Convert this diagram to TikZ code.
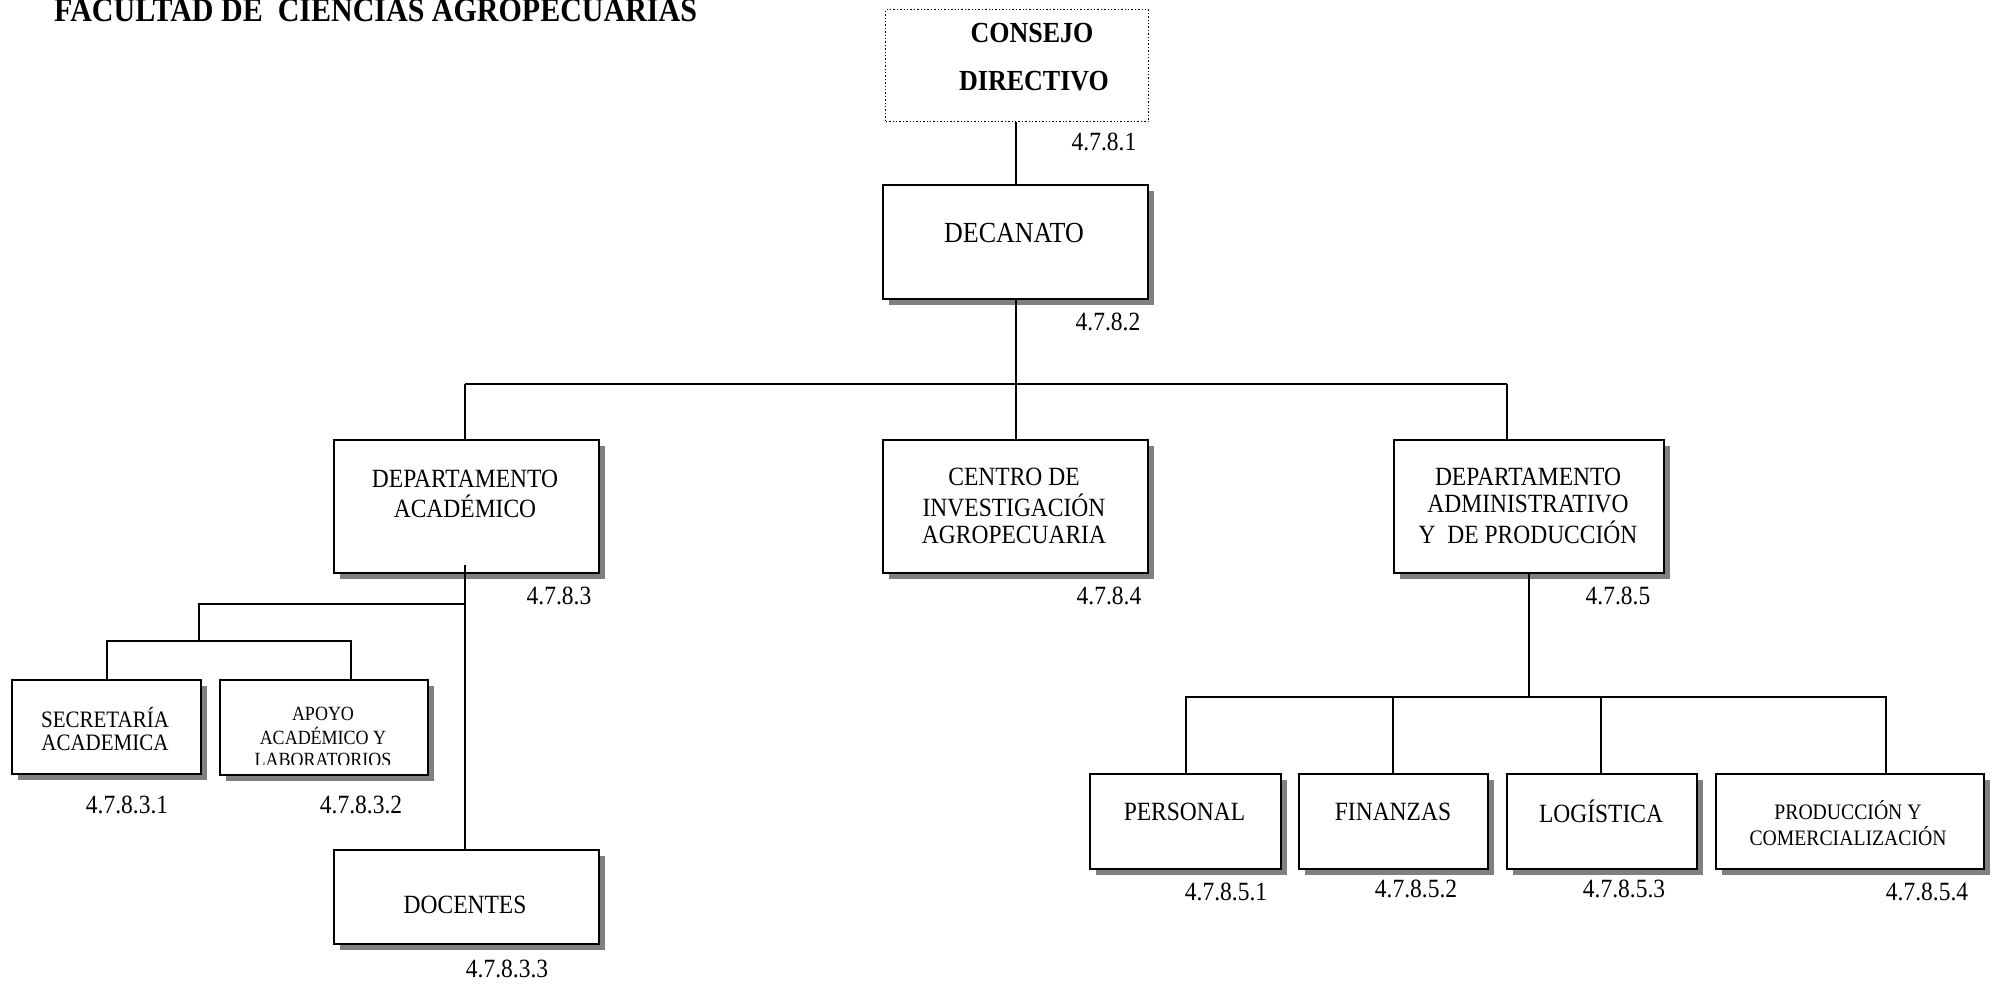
\documentclass[tikz,border=0pt]{standalone}
\usepackage{fontspec}
\usepackage{graphicx}
\setmainfont{Liberation Serif}
\usetikzlibrary{shadows}

% text is set slightly taller than wide
\newcommand\tallText[1]{\scalebox{1}[1.12]{\begin{tabular}{@{}c@{}}#1\end{tabular}}}

\tikzset{
  unitbox/.style={draw, line width=2.2pt, fill=white, inner sep=0pt,
    general shadow={fill=black!50, shadow xshift=6pt, shadow yshift=-6pt}},
  topbox/.style={draw, line width=1.4pt, dotted, inner sep=0pt},
  boxtext/.style={inner sep=0pt, font=\fontsize{23.5}{24}\selectfont},
  smalltext/.style={inner sep=0pt, font=\fontsize{21}{20.5}\selectfont},
  tinytext/.style={inner sep=0pt, font=\fontsize{18}{19.6}\selectfont},
  codelabel/.style={inner sep=0pt, font=\fontsize{23.5}{24}\selectfont},
  link/.style={line width=2pt},
}

\begin{document}
\begin{tikzpicture}[x=1pt, y=-1pt]
\useasboundingbox (0,0) rectangle (1999,993);

% title
\node[anchor=base west, inner sep=0pt, font=\fontsize{30}{30}\selectfont\bfseries] (title) at (54,21)
  {\scalebox{1}[1.12]{FACULTAD DE\ \ CIENCIAS AGROPECUARIAS}};

% ---- boxes ----
\node[topbox, anchor=north west, minimum width=263pt, minimum height=112pt] (consejo) at (885,9) {};
\node[unitbox, anchor=north west, minimum width=265pt, minimum height=114pt] (decanato) at (882,184) {};
\node[unitbox, anchor=north west, minimum width=265pt, minimum height=133pt] (acad) at (333,439) {};
\node[unitbox, anchor=north west, minimum width=265pt, minimum height=133pt] (centro) at (882,439) {};
\node[unitbox, anchor=north west, minimum width=270pt, minimum height=133pt] (admin) at (1393,439) {};
\node[unitbox, anchor=north west, minimum width=189pt, minimum height=94pt] (secret) at (11,679) {};
\node[unitbox, anchor=north west, minimum width=208pt, minimum height=95pt] (apoyo) at (219,679) {};
\node[unitbox, anchor=north west, minimum width=265pt, minimum height=94pt] (docentes) at (333,849) {};
\node[unitbox, anchor=north west, minimum width=191pt, minimum height=95pt] (personal) at (1089,773) {};
\node[unitbox, anchor=north west, minimum width=189pt, minimum height=95pt] (finanzas) at (1298,773) {};
\node[unitbox, anchor=north west, minimum width=190pt, minimum height=95pt] (logistica) at (1506,773) {};
\node[unitbox, anchor=north west, minimum width=268pt, minimum height=95pt] (prod) at (1715,773) {};

% ---- box texts ----
\node[inner sep=0pt, font=\fontsize{26}{26}\selectfont\bfseries] (tconsejo) at (1032,37) {\tallText{CONSEJO}};
\node[inner sep=0pt, font=\fontsize{26}{26}\selectfont\bfseries] (tdirectivo) at (1034,85) {\tallText{DIRECTIVO}};
\node[inner sep=0pt, font=\fontsize{26}{26}\selectfont] (tdecanato) at (1014,237) {\tallText{DECANATO}};
\node[boxtext] (tacad) at (465,497) {\tallText{DEPARTAMENTO\\ACADÉMICO}};
\node[boxtext] (tcentro) at (1014,509) {\tallText{CENTRO DE\\INVESTIGACIÓN\\AGROPECUARIA}};
\node[boxtext] (tadmin) at (1528,509) {\tallText{DEPARTAMENTO\\ADMINISTRATIVO\\Y\ \ DE PRODUCCIÓN}};
\node[smalltext] (tsecret) at (105,732) {\tallText{SECRETARÍA\\ACADEMICA}};
\begin{scope}
  \clip (219,679) rectangle (427,764);
  \node[tinytext] (tapoyo) at (323,739) {\tallText{APOYO\\ACADÉMICO Y\\LABORATORIOS}};
\end{scope}
\node[boxtext] (tdocentes) at (465,908) {\tallText{DOCENTES}};
\node[boxtext] (tpersonal) at (1184.5,815) {\tallText{PERSONAL}};
\node[boxtext] (tfinanzas) at (1393,815) {\tallText{FINANZAS}};
\node[boxtext] (tlogistica) at (1601,815) {\tallText{LOGÍSTICA}};
\node[inner sep=0pt, font=\fontsize{19.7}{21}\selectfont] (tprod) at (1848,827) {\tallText{PRODUCCIÓN Y\\COMERCIALIZACIÓN}};

% ---- codes ----
\node[codelabel] (c1) at (1104,145) {\tallText{4.7.8.1}};
\node[codelabel] (c2) at (1108,325) {\tallText{4.7.8.2}};
\node[codelabel] (c3) at (559,599) {\tallText{4.7.8.3}};
\node[codelabel] (c4) at (1109,599) {\tallText{4.7.8.4}};
\node[codelabel] (c5) at (1618,599) {\tallText{4.7.8.5}};
\node[codelabel] (c31) at (127,808) {\tallText{4.7.8.3.1}};
\node[codelabel] (c32) at (361,808) {\tallText{4.7.8.3.2}};
\node[codelabel] (c33) at (507,972) {\tallText{4.7.8.3.3}};
\node[codelabel] (c51) at (1226,895) {\tallText{4.7.8.5.1}};
\node[codelabel] (c52) at (1416,892) {\tallText{4.7.8.5.2}};
\node[codelabel] (c53) at (1624,892) {\tallText{4.7.8.5.3}};
\node[codelabel] (c54) at (1927,895) {\tallText{4.7.8.5.4}};

% ---- junction points ----
\coordinate (busL) at (465,384);
\coordinate (busR) at (1507,384);
\coordinate (acadOut) at (465,565);
\coordinate (subJ) at (465,604);
\coordinate (subK) at (199,604);
\coordinate (subBus) at (199,641);
\coordinate (apoyoIn) at (351,641);
\coordinate (prodBus) at (1186,697);
\coordinate (prodIn) at (1886,697);
\coordinate (finIn) at (1393,697);
\coordinate (logIn) at (1601,697);

% ---- connectors ----
\draw[link] (decanato.north) -- (decanato.north |- consejo.south);
\draw[link] (decanato.south) -- (decanato.south |- busL);
\draw[link] (busL) -- (busR);
\draw[link] (busL) -- (busL |- acad.north);
\draw[link] (centro.north) -- (centro.north |- busL);
\draw[link] (busR) -- (busR |- admin.north);

\draw[link] (acadOut) -- (acadOut |- docentes.north);
\draw[link] (subJ) -- (subK) -- (subBus);
\draw[link] (secret.north) |- (apoyoIn) -- (apoyoIn |- apoyo.north);

\draw[link] (admin.south) -- (admin.south |- prodBus);
\draw[link] (personal.north) |- (prodIn) -- (prodIn |- prod.north);
\draw[link] (finIn) -- (finIn |- finanzas.north);
\draw[link] (logIn) -- (logIn |- logistica.north);
\end{tikzpicture}
\end{document}
